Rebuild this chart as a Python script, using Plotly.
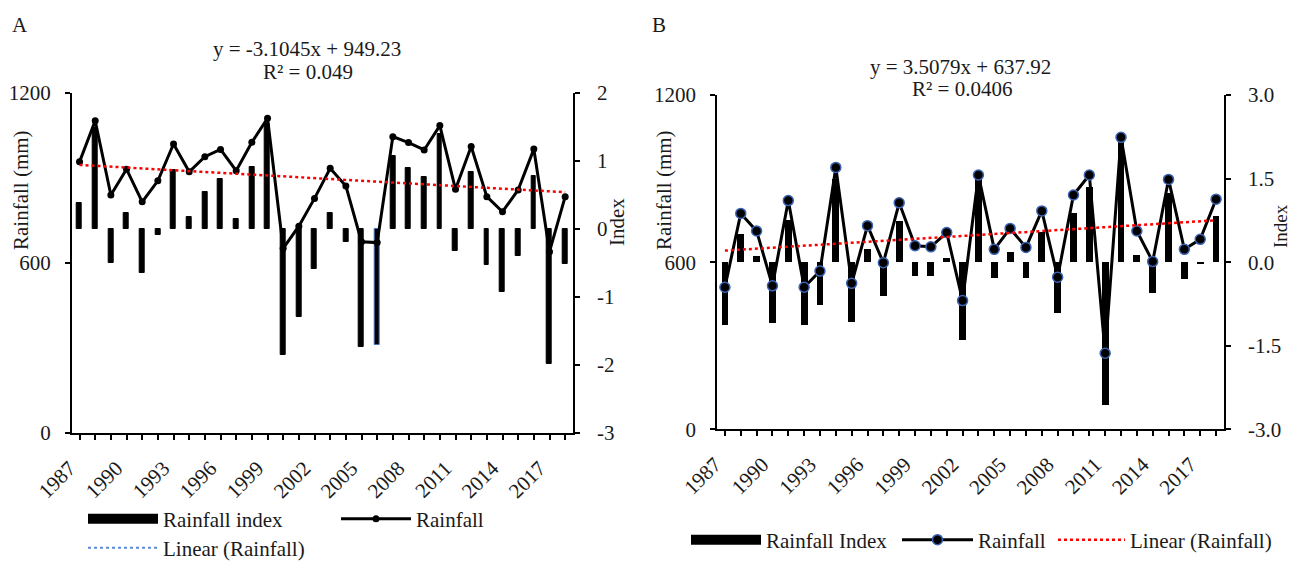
import plotly.graph_objects as go

# ---------------- data ----------------
years = list(range(1987, 2019))
label_years = list(range(1987, 2019, 3))

rain_a = [957, 1102, 840, 931, 816, 890, 1020, 922, 975, 1001, 926, 1026, 1111, 652, 730, 828,
          934, 872, 675, 672, 1046, 1025, 999, 1085, 860, 1011, 834, 781, 858, 1002, 640, 834]
index_a = [0.38, 1.48, -0.50, 0.23, -0.65, -0.09, 0.87, 0.17, 0.55, 0.73, 0.15, 0.91, 1.55, -1.85, -1.30, -0.59,
           0.23, -0.19, -1.74, -1.71, 1.07, 0.90, 0.77, 1.40, -0.33, 0.84, -0.53, -0.92, -0.39, 0.78, -1.98, -0.51]

rain_b = [510, 775, 712, 515, 821, 510, 568, 940, 524, 731, 598, 813, 659, 655, 706, 462,
          913, 646, 721, 653, 784, 546, 841, 913, 273, 1048, 712, 602, 897, 646, 682, 826]
index_b = [-1.13, 0.50, 0.11, -1.10, 0.75, -1.13, -0.77, 1.50, -1.07, 0.24, -0.60, 0.74, -0.25, -0.25, 0.07, -1.40,
           1.50, -0.28, 0.19, -0.28, 0.55, -0.91, 0.89, 1.35, -2.56, 2.15, 0.12, -0.55, 1.25, -0.30, -0.04, 0.83]

trend_a = (-3.1045, 949.23, "0.049")
trend_b = (3.5079, 637.92, "0.0406")

rain_ticks = [0, 600, 1200]
index_a_ticks = [-3, -2, -1, 0, 1, 2]
index_a_labels = ["-3", "-2", "-1", "0", "1", "2"]
index_b_ticks = [-3, -1.5, 0, 1.5, 3]
index_b_labels = ["-3.0", "-1.5", "0.0", "1.5", "3.0"]

# trend lines from the reported equations (x = 1..n)
trend_a_vals = [trend_a[0] * (i + 1) + trend_a[1] for i in range(len(years))]
trend_b_vals = [trend_b[0] * (i + 1) + trend_b[1] for i in range(len(years))]

# ---------------- styling ----------------
W, H = 1291, 561
FONT = "Liberation Serif"
FS = 21
TXT = "#1a1a1a"


def fx(p):
    return p / W


def fy(p):
    return 1 - p / H


fig = go.Figure()

# ---- Panel A ----
bar_line_a = ["black"] * len(years)
bar_line_a[years.index(2006)] = "#4472C4"
fig.add_trace(go.Bar(x=years, y=index_a, xaxis="x", yaxis="y", width=0.3,
                     marker=dict(color="black", line=dict(color=bar_line_a, width=1)),
                     name="Rainfall index", showlegend=False))
fig.add_trace(go.Scatter(x=years, y=rain_a, xaxis="x", yaxis="y2", mode="lines+markers",
                         line=dict(color="black", width=3), marker=dict(color="black", size=7),
                         name="Rainfall", legend="legend2"))
fig.add_trace(go.Scatter(x=years, y=trend_a_vals, xaxis="x", yaxis="y2", mode="lines",
                         line=dict(color="#FF0000", width=2.5, dash="dot"),
                         name="Linear (Rainfall)", showlegend=False))
# legend keys of panel A (bar key drawn as a wide block; trend key in blue as in the original)
fig.add_trace(go.Scatter(x=[None], y=[None], xaxis="x", yaxis="y", mode="lines",
                         line=dict(color="black", width=10),
                         name="Rainfall index", legend="legend"))
fig.add_trace(go.Scatter(x=[None], y=[None], xaxis="x", yaxis="y2", mode="lines",
                         line=dict(color="#5B8BD6", width=2, dash="dot"),
                         name="Linear (Rainfall)", legend="legend3"))

# ---- Panel B ----
fig.add_trace(go.Bar(x=years, y=index_b, xaxis="x2", yaxis="y3", width=0.43,
                     marker=dict(color="black", line=dict(width=0)),
                     name="Rainfall Index", showlegend=False))
fig.add_trace(go.Scatter(x=years, y=rain_b, xaxis="x2", yaxis="y4", mode="lines+markers",
                         line=dict(color="black", width=3),
                         marker=dict(color="black", size=10, line=dict(color="#3B64B4", width=1.5)),
                         name="Rainfall", legend="legend5"))
fig.add_trace(go.Scatter(x=years, y=trend_b_vals, xaxis="x2", yaxis="y4", mode="lines",
                         line=dict(color="#FF0000", width=2.5, dash="dot"),
                         name="Linear (Rainfall)", legend="legend6"))
fig.add_trace(go.Scatter(x=[None], y=[None], xaxis="x2", yaxis="y3", mode="lines",
                         line=dict(color="black", width=10),
                         name="Rainfall Index", legend="legend4"))

ticktext = [str(y) if y in label_years else "" for y in years]
axis_common = dict(showline=True, linecolor="black", linewidth=1.5, ticks="outside", ticklen=5,
                   tickcolor="black", tickwidth=1.5, showgrid=False, zeroline=False,
                   automargin=False, tickfont=dict(family=FONT, size=FS, color=TXT))

xa = dict(range=[1986.5, 2018.5], tickmode="array", tickvals=years, ticktext=ticktext,
          tickangle=-45, ticklabelshift=-10, ticklabelstandoff=8, **axis_common)


def leg(xp, yp, iw):
    return dict(x=fx(xp), y=fy(yp), xanchor="left", yanchor="middle", orientation="h",
                itemwidth=iw, font=dict(family=FONT, size=FS, color=TXT),
                bgcolor="rgba(0,0,0,0)", borderwidth=0)


fig.update_layout(
    width=W, height=H, margin=dict(l=0, r=0, t=0, b=0, autoexpand=False),
    paper_bgcolor="white", plot_bgcolor="rgba(0,0,0,0)",
    font=dict(family=FONT, size=FS, color=TXT),
    bargap=0,
    xaxis=dict(domain=[fx(71.7), fx(573)], anchor="y", **xa),
    yaxis=dict(domain=[fy(433), fy(93)], anchor="x", side="right", range=[-3, 2],
               tickvals=index_a_ticks, ticktext=index_a_labels, ticklabelstandoff=13, **axis_common),
    yaxis2=dict(overlaying="y", anchor="x", side="left", range=[0, 1200],
                tickvals=rain_ticks, ticklabelstandoff=10, **axis_common),
    xaxis2=dict(domain=[fx(717), fx(1224)], anchor="y3", **xa),
    yaxis3=dict(domain=[fy(429.3), fy(95)], anchor="x2", side="right", range=[-3, 3],
                tickvals=index_b_ticks, ticktext=index_b_labels, ticklabelstandoff=13, **axis_common),
    yaxis4=dict(overlaying="y3", anchor="x2", side="left", range=[0, 1200],
                tickvals=rain_ticks, ticklabelstandoff=10, **axis_common),
    legend=leg(83, 519, 70),
    legend2=leg(336, 519, 70),
    legend3=leg(83, 548, 70),
    legend4=leg(686, 540, 70),
    legend5=leg(897, 540, 71),
    legend6=leg(1053, 540, 67),
    showlegend=True,
)

annos = [
    dict(text="A", x=fx(10), y=fy(25), xanchor="left", yanchor="middle", size=21),
    dict(text="B", x=fx(650), y=fy(25), xanchor="left", yanchor="middle", size=21),
    dict(text=f"y = {trend_a[0]}x + {trend_a[1]}", x=fx(307), y=fy(49), xanchor="center", yanchor="middle"),
    dict(text=f"R² = {trend_a[2]}", x=fx(308), y=fy(72), xanchor="center", yanchor="middle"),
    dict(text=f"y = {trend_b[0]}x + {trend_b[1]}", x=fx(960), y=fy(67), xanchor="center", yanchor="middle"),
    dict(text=f"R² = {trend_b[2]}", x=fx(962), y=fy(89), xanchor="center", yanchor="middle"),
    dict(text="Rainfall (mm)", x=fx(21), y=fy(190), textangle=-90, xanchor="center", yanchor="middle"),
    dict(text="Rainfall (mm)", x=fx(664), y=fy(190), textangle=-90, xanchor="center", yanchor="middle"),
    dict(text="Index", x=fx(617), y=fy(222), textangle=-90, xanchor="center", yanchor="middle"),
    dict(text="Index", x=fx(1280), y=fy(226), textangle=-90, xanchor="center", yanchor="middle", size=19),
]
for a in annos:
    size = a.pop("size", FS)
    a.update(xref="paper", yref="paper", showarrow=False,
             font=dict(family=FONT, size=size, color=TXT))
fig.update_layout(annotations=annos)

# remove the browser's default page margin so the figure fills the window exactly
fig.write_html("out.html", config={"displayModeBar": False},
               post_script="document.body.style.margin='0';document.body.style.overflow='hidden';")
